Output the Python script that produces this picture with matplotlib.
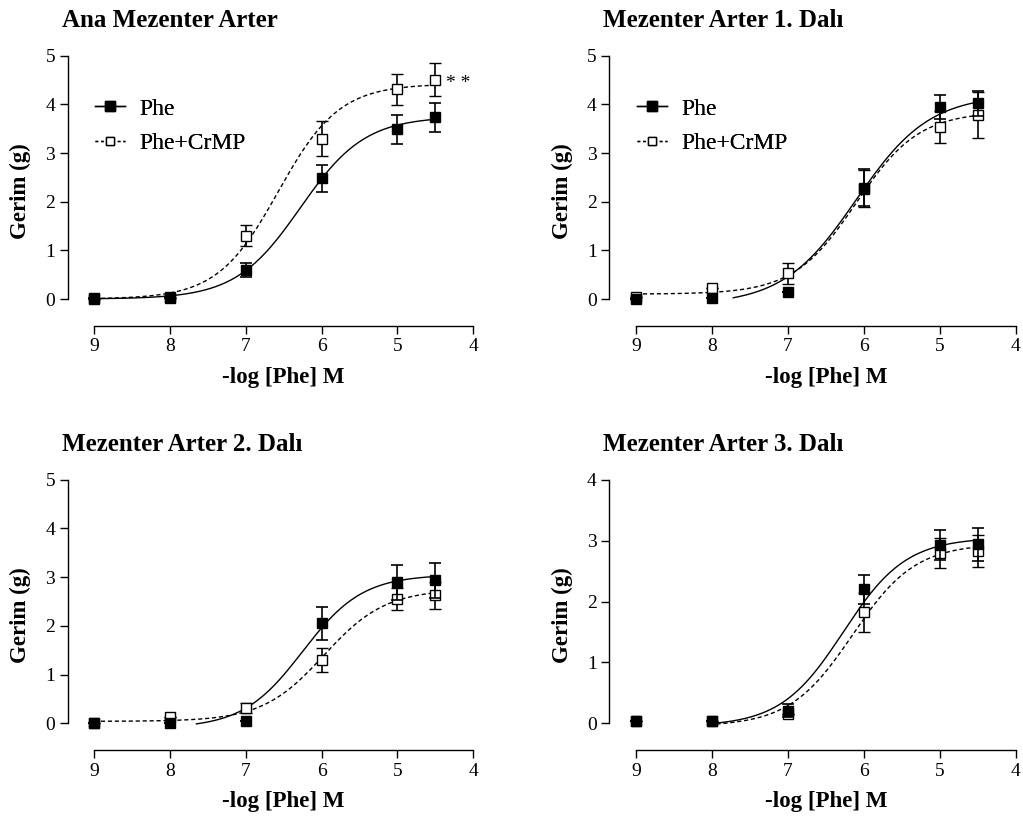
import numpy as np
import matplotlib
matplotlib.use("Agg")
import matplotlib.pyplot as plt

plt.rcParams['font.family'] = ['Liberation Serif', 'DejaVu Serif']

titles = ["Ana Mezenter Arter", "Mezenter Arter 1. Dalı",
          "Mezenter Arter 2. Dalı", "Mezenter Arter 3. Dalı"]
x_conc = [9, 8, 7, 6, 5, 4.5]

# Phe (filled squares): mean and SEM per panel
phe_mean = [[0.02, 0.05, 0.59, 2.48, 3.49, 3.73],
            [0.01, 0.02, 0.14, 2.29, 3.94, 4.02],
            [0.01, 0.01, 0.05, 2.05, 2.89, 2.94],
            [0.04, 0.04, 0.21, 2.20, 2.93, 2.94]]
phe_sem = [[0.0, 0.0, 0.14, 0.28, 0.30, 0.30],
           [0.0, 0.0, 0.0, 0.38, 0.25, 0.25],
           [0.0, 0.0, 0.0, 0.34, 0.36, 0.36],
           [0.0, 0.0, 0.10, 0.24, 0.25, 0.27]]
# Phe+CrMP (open squares)
crmp_mean = [[0.01, 0.02, 1.30, 3.29, 4.31, 4.51],
             [0.05, 0.23, 0.53, 2.27, 3.54, 3.78],
             [0.01, 0.12, 0.32, 1.30, 2.55, 2.63],
             [0.04, 0.04, 0.15, 1.82, 2.80, 2.83]]
crmp_sem = [[0.0, 0.0, 0.22, 0.36, 0.32, 0.33],
            [0.0, 0.0, 0.22, 0.38, 0.33, 0.47],
            [0.0, 0.0, 0.10, 0.25, 0.22, 0.28],
            [0.0, 0.0, 0.0, 0.32, 0.25, 0.27]]

# Fitted sigmoid (4PL) parameters:
# bottom, top, pEC50, hill slope, curve start (-log M)
phe_fit = [[0.0, 3.75, 6.28, 1.02, 9.0],
           [-0.12, 4.2, 6.10, 0.90, 7.72],
           [-0.1, 3.05, 6.25, 1.10, 7.65],
           [-0.05, 3.05, 6.27, 1.05, 7.94]]
crmp_fit = [[0.0, 4.42, 6.57, 1.08, 9.0],
            [0.1, 3.85, 6.10, 1.05, 9.0],
            [0.04, 2.75, 5.97, 1.07, 9.0],
            [-0.05, 2.95, 6.15, 1.05, 7.94]]
curve_end = 4.5

y_max = [5, 5, 5, 4]
x_ticks = [9, 8, 7, 6, 5, 4]

fig = plt.figure(figsize=(10.23, 8.16), dpi=100)
W, H = 1023, 816
# pixel boxes: (yaxis_x, x9_px, x4_px, xaxis_y, y0_px, ytop_px)
boxes = [(67.7, 94.0, 473.3, 325.7, 299.0, 55.7),
         (609.3, 636.0, 1015.7, 325.7, 299.0, 55.7),
         (67.7, 94.0, 473.3, 750.3, 723.3, 479.7),
         (609.3, 636.0, 1015.7, 750.3, 723.3, 479.7)]


def sigmoid(p, b, t, c, h):
    return b + (t - b) / (1 + 10 ** (h * (p - c)))


for i in range(4):
    yx, x9, x4, xay, y0, ytop = boxes[i]
    aw = x4 - yx
    ah = xay - ytop
    ax = fig.add_axes([yx / W, 1 - xay / H, aw / W, ah / H])
    ppu_x = (x4 - x9) / 5.0
    ppu_y = (y0 - ytop) / y_max[i]
    ax.set_xlim(9 + (x9 - yx) / ppu_x, 4)
    ax.set_ylim(-(xay - y0) / ppu_y, y_max[i])

    for s in ['top', 'right']:
        ax.spines[s].set_visible(False)
    ax.spines['left'].set_bounds(0, y_max[i])
    ax.spines['bottom'].set_bounds(9, 4)
    for s in ['left', 'bottom']:
        ax.spines[s].set_linewidth(1.0)
    ax.set_xticks(x_ticks)
    ax.set_yticks(range(0, y_max[i] + 1))
    ax.tick_params(direction='out', length=6, width=1.0, labelsize=14, pad=3)

    # curves
    b, t, c, h, st = phe_fit[i]
    pp = np.linspace(st, curve_end, 200)
    ax.plot(pp, sigmoid(pp, b, t, c, h), color='black', lw=1.0, zorder=2)
    b, t, c, h, st = crmp_fit[i]
    pp = np.linspace(st, curve_end, 200)
    ax.plot(pp, sigmoid(pp, b, t, c, h), color='black', lw=1.0,
            ls=(0, (3, 2)), zorder=2)

    # data points with error bars
    ax.errorbar(x_conc, crmp_mean[i], yerr=crmp_sem[i], fmt='s', ms=6.5,
                mfc='white', mec='black', mew=1.0, ecolor='black',
                elinewidth=1.2, capsize=4, capthick=1.2, zorder=3)
    ax.errorbar(x_conc, phe_mean[i], yerr=phe_sem[i], fmt='s', ms=6.5,
                mfc='black', mec='black', ecolor='black',
                elinewidth=1.2, capsize=4, capthick=1.2, zorder=4)

    # legend handles
    h1, = ax.plot([], [], color='black', lw=1.0, marker='s', ms=6.5, mfc='black')
    h2, = ax.plot([], [], color='black', lw=1.0, ls=(0, (2, 2)), marker='s',
                  ms=6, mfc='white', mew=1.0)
    ax.legend([h1, h2], ["Phe", "Phe+CrMP"], loc='upper left',
              bbox_to_anchor=((x9 + 1 - yx) / aw, 1 - (98.0 - ytop) / ah),
              frameon=False, fontsize=17, handlelength=1.27,
              handletextpad=0.62, labelspacing=0.56, borderaxespad=0,
              borderpad=0)

    ax.set_ylabel("Gerim (g)", fontsize=16.5, fontweight='bold', labelpad=10)
    ax.set_xlabel("-log [Phe] M", fontsize=16.5, fontweight='bold')
    ax.xaxis.set_label_coords((0.5 * (x9 + x4) - yx) / aw, -0.152)
    ax.set_title(titles[i], fontsize=18, fontweight='bold', loc='left',
                 x=-0.015, pad=21)

    if i == 0:
        ax.text(4.2, 4.42, "* *", fontsize=14, ha='center', va='center')

fig.savefig("out.png", dpi=100)
